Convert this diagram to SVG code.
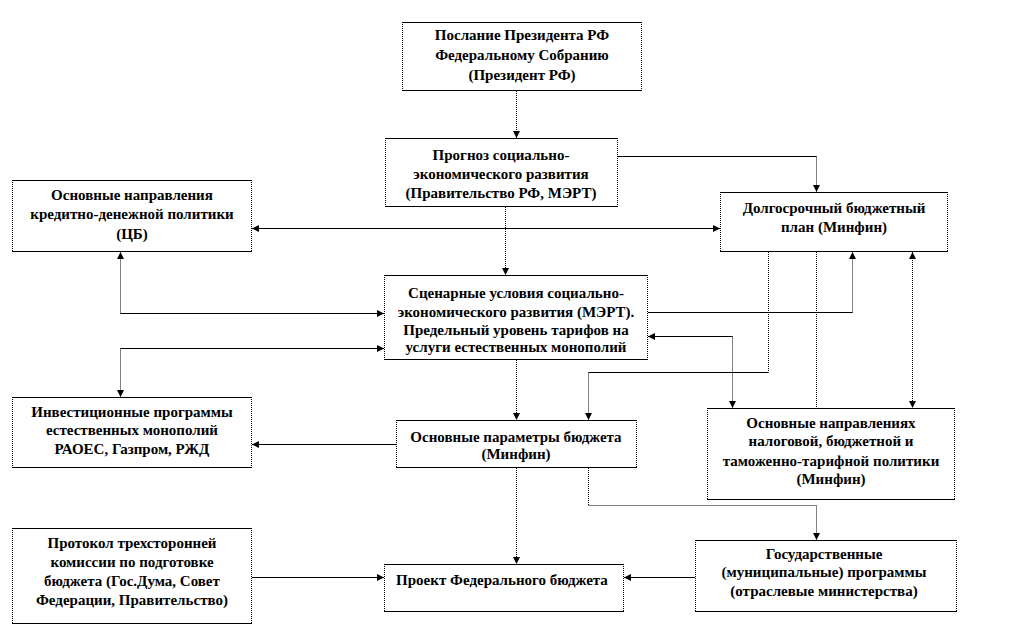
<svg xmlns="http://www.w3.org/2000/svg" width="1020" height="627" viewBox="0 0 1020 627">
<style>
.bg{fill:#fff;stroke:none}
.hs{fill:none;stroke:#000;stroke-width:1}
.vs{fill:none;stroke:#000;stroke-width:1;stroke-dasharray:1 1}
.h{fill:none;stroke:#000;stroke-width:1}
.v{fill:none;stroke:#000;stroke-width:1;stroke-dasharray:1 1}
text{font-family:"Liberation Serif","Times New Roman",serif;font-weight:bold;font-size:15px;fill:#000;text-anchor:middle}
</style>
<defs>
<marker id="ae" viewBox="0 0 8 8" refX="8" refY="4" markerWidth="7" markerHeight="7" markerUnits="userSpaceOnUse" orient="auto">
<path d="M0,0 L8,4 L0,8 Z" fill="#000"/>
</marker>
<marker id="as" viewBox="0 0 8 8" refX="0" refY="4" markerWidth="7" markerHeight="7" markerUnits="userSpaceOnUse" orient="auto">
<path d="M8,0 L0,4 L8,8 Z" fill="#000"/>
</marker>
</defs>
<rect width="1020" height="627" fill="#fff"/>

<g id="connectors">
<line class="v" x1="516.5" y1="91" x2="516.5" y2="138" marker-end="url(#ae)"/>
<line class="h" x1="618" y1="156.5" x2="816.5" y2="156.5"/>
<line class="v" x1="816.5" y1="156.5" x2="816.5" y2="192" marker-end="url(#ae)"/>
<line class="h" x1="252" y1="228.5" x2="720" y2="228.5" marker-start="url(#as)" marker-end="url(#ae)"/>
<line class="v" x1="505.5" y1="207" x2="505.5" y2="275" marker-end="url(#ae)"/>
<line class="v" x1="120.5" y1="313.5" x2="120.5" y2="252" marker-end="url(#ae)"/>
<line class="h" x1="120.5" y1="313.5" x2="384" y2="313.5" marker-end="url(#ae)"/>
<line class="v" x1="120.5" y1="348.5" x2="120.5" y2="397" marker-end="url(#ae)"/>
<line class="h" x1="120.5" y1="348.5" x2="384" y2="348.5" marker-end="url(#ae)"/>
<line class="h" x1="648" y1="312.5" x2="852.5" y2="312.5"/>
<line class="v" x1="852.5" y1="312.5" x2="852.5" y2="252" marker-end="url(#ae)"/>
<line class="h" x1="732.5" y1="336.5" x2="648" y2="336.5" marker-end="url(#ae)"/>
<line class="v" x1="732.5" y1="336.5" x2="732.5" y2="408" marker-end="url(#ae)"/>
<line class="v" x1="768.5" y1="252" x2="768.5" y2="372.5"/>
<line class="h" x1="768.5" y1="372.5" x2="588.5" y2="372.5"/>
<line class="v" x1="588.5" y1="372.5" x2="588.5" y2="420" marker-end="url(#ae)"/>
<line class="v" x1="816.5" y1="252" x2="816.5" y2="408"/>
<line class="v" x1="912.5" y1="252" x2="912.5" y2="408" marker-start="url(#as)" marker-end="url(#ae)"/>
<line class="v" x1="516.5" y1="360" x2="516.5" y2="420" marker-end="url(#ae)"/>
<line class="h" x1="396" y1="444.5" x2="252" y2="444.5" marker-end="url(#ae)"/>
<line class="v" x1="516.5" y1="468" x2="516.5" y2="564" marker-end="url(#ae)"/>
<line class="v" x1="588.5" y1="468" x2="588.5" y2="505.5"/>
<line class="v" x1="588.5" y1="505.5" x2="816.5" y2="505.5"/>
<line class="v" x1="816.5" y1="505.5" x2="816.5" y2="540" marker-end="url(#ae)"/>
<line class="h" x1="252" y1="577.5" x2="384" y2="577.5" marker-end="url(#ae)"/>
<line class="h" x1="695" y1="577.5" x2="624" y2="577.5" marker-end="url(#ae)"/>
</g>

<g id="n-president">
<rect class="bg" x="402" y="22" width="240" height="69"/>
<path class="hs" d="M402,22.5H642M402,90.5H642"/>
<path class="vs" d="M402.5,22V91M641.5,22V91"/>
<text x="522" y="40">Послание Президента РФ</text>
<text x="522" y="60">Федеральному Собранию</text>
<text x="522" y="80">(Президент РФ)</text>
</g>

<g id="n-prognoz">
<rect class="bg" x="385" y="138" width="233" height="69"/>
<path class="hs" d="M385,138.5H618M385,206.5H618"/>
<path class="vs" d="M385.5,138V207M617.5,138V207"/>
<text x="501" y="160">Прогноз социально-</text>
<text x="501" y="179">экономического развития</text>
<text x="501" y="198">(Правительство РФ, МЭРТ)</text>
</g>

<g id="n-cb">
<rect class="bg" x="12" y="180" width="240" height="72"/>
<path class="hs" d="M12,180.5H252M12,251.5H252"/>
<path class="vs" d="M12.5,180V252M251.5,180V252"/>
<text x="132" y="200">Основные направления</text>
<text x="132" y="219">кредитно-денежной политики</text>
<text x="132" y="239">(ЦБ)</text>
</g>

<g id="n-dolgosrochny">
<rect class="bg" x="720" y="192" width="228" height="60"/>
<path class="hs" d="M720,192.5H948M720,251.5H948"/>
<path class="vs" d="M720.5,192V252M947.5,192V252"/>
<text x="834" y="213">Долгосрочный бюджетный</text>
<text x="834" y="232">план (Минфин)</text>
</g>

<g id="n-scenarnye">
<rect class="bg" x="384" y="275" width="264" height="85"/>
<path class="hs" d="M384,275.5H648M384,359.5H648"/>
<path class="vs" d="M384.5,275V360M647.5,275V360"/>
<text x="516" y="298">Сценарные условия социально-</text>
<text x="516" y="317">экономического развития (МЭРТ).</text>
<text x="516" y="335">Предельный уровень тарифов на</text>
<text x="516" y="352">услуги  естественных монополий</text>
</g>

<g id="n-invest">
<rect class="bg" x="12" y="397" width="240" height="71"/>
<path class="hs" d="M12,397.5H252M12,467.5H252"/>
<path class="vs" d="M12.5,397V468M251.5,397V468"/>
<text x="132" y="417">Инвестиционные программы</text>
<text x="132" y="435">естественных монополий</text>
<text x="132" y="454">РАОЕС, Газпром, РЖД</text>
</g>

<g id="n-parametry">
<rect class="bg" x="396" y="420" width="241" height="48"/>
<path class="hs" d="M396,420.5H637M396,467.5H637"/>
<path class="vs" d="M396.5,420V468M636.5,420V468"/>
<text x="516" y="442">Основные параметры бюджета</text>
<text x="516" y="459">(Минфин)</text>
</g>

<g id="n-nalogovoy">
<rect class="bg" x="707" y="408" width="248" height="92"/>
<path class="hs" d="M707,408.5H955M707,499.5H955"/>
<path class="vs" d="M707.5,408V500M954.5,408V500"/>
<text x="831" y="428">Основные направлениях</text>
<text x="831" y="446">налоговой, бюджетной и</text>
<text x="831" y="466">таможенно-тарифной политики</text>
<text x="831" y="484">(Минфин)</text>
</g>

<g id="n-protokol">
<rect class="bg" x="12" y="528" width="240" height="96"/>
<path class="hs" d="M12,528.5H252M12,623.5H252"/>
<path class="vs" d="M12.5,528V624M251.5,528V624"/>
<text x="132" y="548">Протокол трехсторонней</text>
<text x="132" y="567">комиссии по подготовке</text>
<text x="132" y="586">бюджета (Гос.Дума, Совет</text>
<text x="132" y="605">Федерации, Правительство)</text>
</g>

<g id="n-proekt">
<rect class="bg" x="384" y="564" width="240" height="48"/>
<path class="hs" d="M384,564.5H624M384,611.5H624"/>
<path class="vs" d="M384.5,564V612M623.5,564V612"/>
<text x="502" y="585">Проект Федерального бюджета</text>
</g>

<g id="n-gosprogrammy">
<rect class="bg" x="695" y="540" width="262" height="72"/>
<path class="hs" d="M695,540.5H957M695,611.5H957"/>
<path class="vs" d="M695.5,540V612M956.5,540V612"/>
<text x="824" y="559">Государственные</text>
<text x="824" y="577">(муниципальные) программы</text>
<text x="824" y="596">(отраслевые министерства)</text>
</g>
</svg>
